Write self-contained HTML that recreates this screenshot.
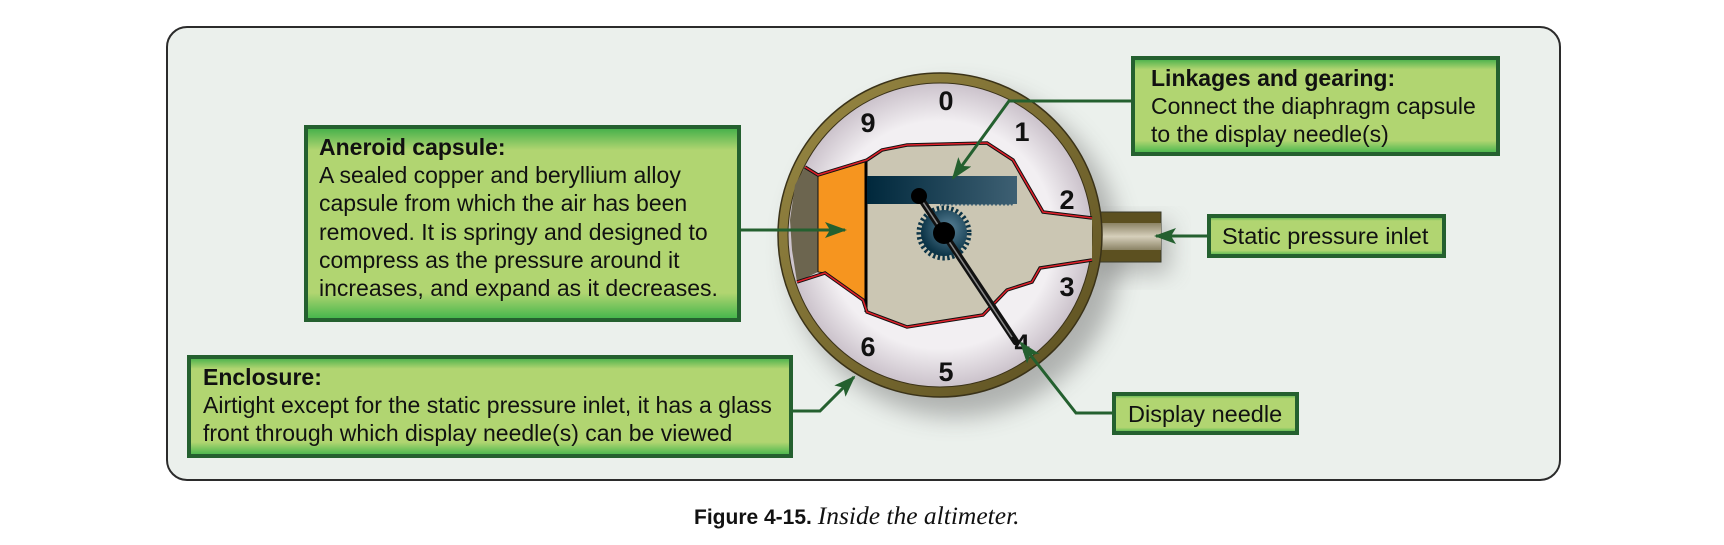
<!DOCTYPE html>
<html><head><meta charset="utf-8"><style>
html,body{margin:0;padding:0;background:#fff;}
body{width:1724px;height:540px;overflow:hidden;}
svg text{font-family:"Liberation Sans",Arial,sans-serif;}
</style></head><body>
<svg width="1724" height="540" viewBox="0 0 1724 540" xmlns="http://www.w3.org/2000/svg">
<defs>
<linearGradient id="box" x1="0" y1="0" x2="0" y2="1">
<stop offset="0" stop-color="#3fae48"/><stop offset="0.12" stop-color="#b1d571"/><stop offset="0.86" stop-color="#b1d571"/><stop offset="1" stop-color="#3fb44a"/>
</linearGradient>
<radialGradient id="face" cx="0.5" cy="0.5" r="0.5">
<stop offset="0.75" stop-color="#f2eff2"/><stop offset="1" stop-color="#cbc2cb"/>
</radialGradient>
<linearGradient id="rim" x1="0" y1="0" x2="1" y2="1">
<stop offset="0" stop-color="#9a8a44"/><stop offset="1" stop-color="#5a4e20"/>
</linearGradient>
<linearGradient id="bar" x1="0" y1="0" x2="1" y2="0">
<stop offset="0" stop-color="#00283c"/><stop offset="1" stop-color="#3e6073"/>
</linearGradient>
<radialGradient id="gear" cx="0.6" cy="0.4" r="0.6">
<stop offset="0" stop-color="#5a8399"/><stop offset="1" stop-color="#0c3447"/>
</radialGradient>
<linearGradient id="tube" x1="0" y1="0" x2="0" y2="1">
<stop offset="0" stop-color="#8b8365"/><stop offset="0.5" stop-color="#d6cfbb"/><stop offset="1" stop-color="#8b8365"/>
</linearGradient>
<filter id="sh" x="-30%" y="-30%" width="160%" height="160%"><feGaussianBlur stdDeviation="12"/></filter>
<marker id="ah" markerWidth="22" markerHeight="16" refX="20" refY="8" orient="auto" markerUnits="userSpaceOnUse" viewBox="0 0 22 16">
<path d="M0,0 L22,8 L0,16 L5,8 Z" fill="#24602f"/></marker>
</defs>
<rect x="167" y="27" width="1393" height="453" rx="20" fill="#ebf0ec" stroke="#2b2b2b" stroke-width="2"/>

<circle cx="955" cy="252" r="165" fill="#666" opacity="0.45" filter="url(#sh)"/>
<rect x="1100" y="222" width="70" height="52" fill="#666" opacity="0.4" filter="url(#sh)"/>

<rect x="1085" y="212" width="76" height="50" fill="#5c5020" stroke="#3a3a2a" stroke-width="1"/>
<rect x="1092" y="223" width="69" height="27" fill="url(#tube)"/>

<circle cx="940" cy="235" r="162" fill="url(#rim)" stroke="#3a3218" stroke-width="1.5"/>
<circle cx="940" cy="235" r="152" fill="url(#face)" stroke="#3a3218" stroke-width="1"/>
<path d="M805,167 L818,175 L818,272 L797,282 L792,250 L790,220 L795,185 Z" fill="#6c654f"/>
<path d="M867,160 L882,150 L907,145 L987,143 L1013,160 L1043,212 L1092,218 L1092,260 L1040,268 L1032,282 L1007,290 L983,315 L907,327 L867,312 Z" fill="#cbc6b3"/>
<path d="M818,175 L867,160 L867,310 L863,300 L825,273 L818,272 Z" fill="#f6951f" stroke="#111" stroke-width="1"/>
<line x1="866" y1="160" x2="866" y2="312" stroke="#000" stroke-width="3"/>
<path d="M805,167 L818,175 L867,160 L882,150 L907,145 L987,143 L1013,160 L1043,212 L1092,218" fill="none" stroke="#111" stroke-width="3.5"/>
<path d="M805,167 L818,175 L867,160 L882,150 L907,145 L987,143 L1013,160 L1043,212 L1092,218" fill="none" stroke="#e0202a" stroke-width="1.5"/>
<path d="M1092,260 L1040,268 L1032,282 L1007,290 L983,315 L907,327 L867,312 L863,300 L825,273 L797,282" fill="none" stroke="#111" stroke-width="3.5"/>
<path d="M1092,260 L1040,268 L1032,282 L1007,290 L983,315 L907,327 L867,312 L863,300 L825,273 L797,282" fill="none" stroke="#e0202a" stroke-width="1.5"/>
<rect x="867" y="176" width="150" height="28" fill="url(#bar)"/>
<path d="M940,204 l0,2 l2,-2 l2,2 l2,-2 l2,2 l2,-2 l2,2 l2,-2 l2,2 l2,-2 l2,2 l2,-2 l2,2 l2,-2 l2,2 l2,-2 l2,2 l2,-2 l2,2 l2,-2 l2,2 l2,-2 l2,2 l2,-2 l2,2 l2,-2 l2,2 l2,-2 l2,2 l2,-2 l2,2 l2,-2 l2,2 l2,-2 l2,2 l2,-2 l2,2 l1,-2 Z" fill="#3e6073"/>
<circle cx="944" cy="233" r="25" fill="none" stroke="#0c3447" stroke-width="5" stroke-dasharray="2.4 2.4"/>
<circle cx="944" cy="233" r="23" fill="url(#gear)"/>
<line x1="919" y1="196" x2="1016" y2="342" stroke="#111" stroke-width="7" stroke-linecap="round"/>
<line x1="919" y1="196" x2="1012" y2="337" stroke="#888" stroke-width="1.5"/>
<circle cx="919" cy="196" r="8" fill="#000"/>
<circle cx="944" cy="233" r="11" fill="#000"/>
<g font-family="Liberation Sans,Arial,sans-serif" font-weight="bold" font-size="27" text-anchor="middle" fill="#111">
<text x="946" y="110">0</text><text x="868" y="132">9</text><text x="1022" y="141">1</text>
<text x="1067" y="209">2</text><text x="1067" y="296">3</text><text x="1022" y="353">4</text>
<text x="946" y="381">5</text><text x="868" y="356">6</text>
</g>

<g stroke="#24602f" stroke-width="3" fill="none">
<line x1="741" y1="230" x2="845" y2="230" marker-end="url(#ah)"/>
<polyline points="1131,101 1009,101 953,178" marker-end="url(#ah)"/>
<line x1="1207" y1="236" x2="1156" y2="236" marker-end="url(#ah)"/>
<polyline points="1112,413 1076,413 1021,343" marker-end="url(#ah)"/>
<polyline points="793,411 820,411 854,377" marker-end="url(#ah)"/>
</g>

<g stroke="#24602f" stroke-width="4" fill="url(#box)">
<rect x="306" y="127" width="433" height="193"/>
<rect x="189" y="357" width="602" height="99"/>
<rect x="1133" y="58" width="365" height="96"/>
<rect x="1209" y="216" width="235" height="40"/>
<rect x="1114" y="394" width="183" height="39"/>
</g>
<g font-size="23" fill="#111">
<text x="319" y="155" font-weight="bold">Aneroid capsule:</text>
<text x="319" y="183">A sealed copper and beryllium alloy</text>
<text x="319" y="211">capsule from which the air has been</text>
<text x="319" y="240">removed. It is springy and designed to</text>
<text x="319" y="268">compress as the pressure around it</text>
<text x="319" y="296">increases, and expand as it decreases.</text>
<text x="203" y="385" font-weight="bold">Enclosure:</text>
<text x="203" y="413">Airtight except for the static pressure inlet, it has a glass</text>
<text x="203" y="441">front through which display needle(s) can be viewed</text>
<text x="1151" y="86" font-weight="bold">Linkages and gearing:</text>
<text x="1151" y="114">Connect the diaphragm capsule</text>
<text x="1151" y="142">to the display needle(s)</text>
<text x="1222" y="244" font-size="23.5">Static pressure inlet</text>
<text x="1128" y="422" font-size="23.5">Display needle</text>
</g>
<text x="694" y="524" font-size="21" font-weight="bold" fill="#111">Figure 4-15. <tspan font-family="Liberation Serif,serif" font-style="italic" font-weight="normal" font-size="25.5">Inside the altimeter.</tspan></text>
</svg>
</body></html>
